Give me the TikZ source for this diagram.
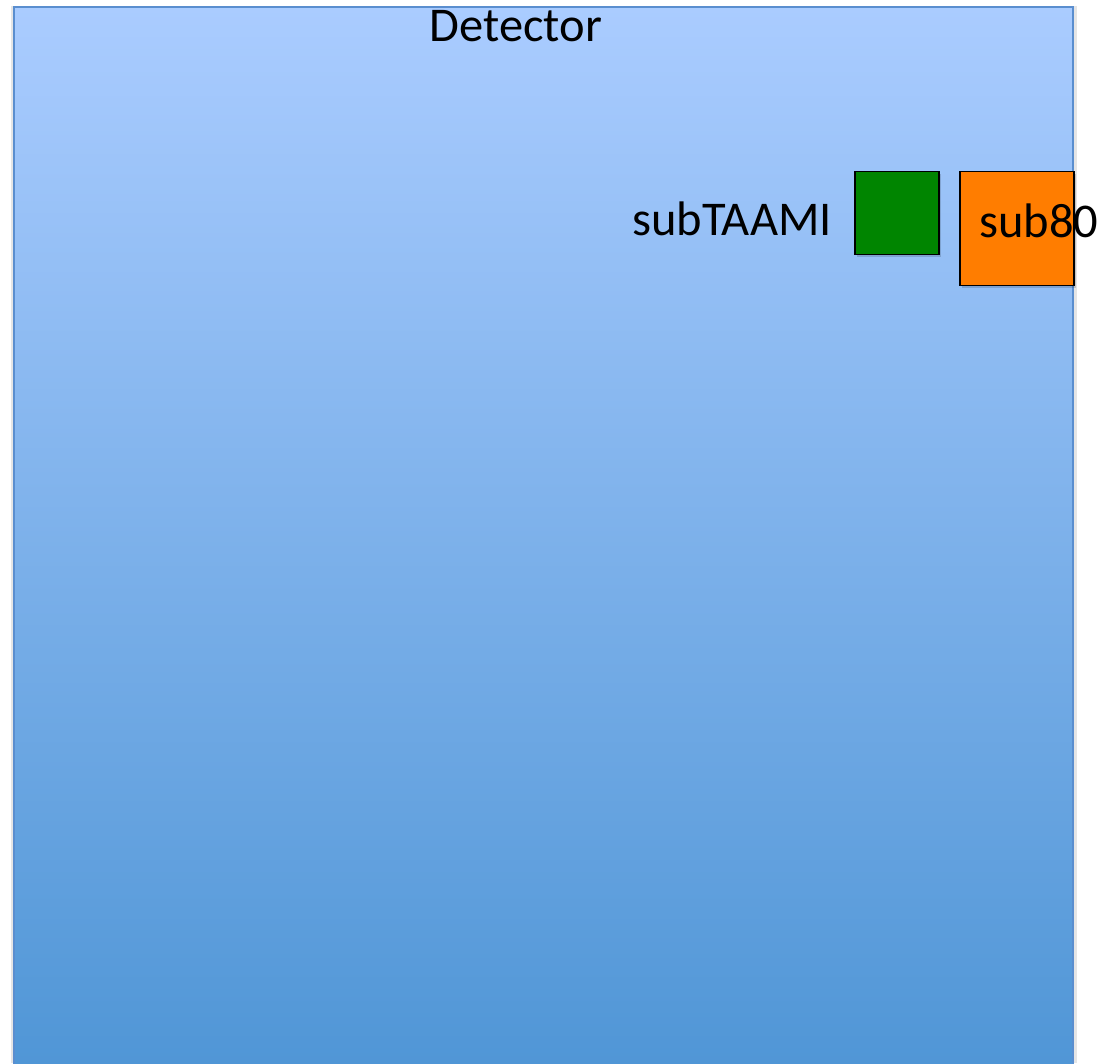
\documentclass[tikz,border=0pt]{standalone}
\usepackage{fontspec}
\setmainfont{Carlito}
\definecolor{detTop}{HTML}{AACCFF}
\definecolor{detBot}{HTML}{5096D6}
\definecolor{detEdge}{HTML}{5A8ECF}
\definecolor{boxGreen}{HTML}{008500}
\definecolor{boxOrange}{HTML}{FF7D00}
\tikzset{
  lbl/.style={font=\fontsize{48.5}{52}\selectfont, text=black, inner sep=0pt},
  sq/.style={draw=black, line width=1.5pt},
  shadowsq/.style={fill=black, opacity=0.15}
}
\begin{document}
\begin{tikzpicture}[x=1pt,y=1pt]
\useasboundingbox (0,0) rectangle (1108,1063);
% shadow of detector
\fill[black!10] (11,0) rectangle (1077,1057);
\shade[top color=detTop, bottom color=detBot, draw=detEdge, line width=1.5pt] (14,-2) rectangle (1073,1056);
\node (det) at (14,-2) {};
\node[lbl, anchor=base] (detlabel) at (516,1021) {Detector};
% shadows
\fill[shadowsq] (857,806) rectangle (941,889);
\fill[shadowsq] (962,775) rectangle (1076,889);
\node[sq, fill=boxGreen, minimum width=84pt, minimum height=83pt, inner sep=0pt, anchor=north west] (green) at (854,892) {};
\node[sq, fill=boxOrange, minimum width=114pt, minimum height=114pt, inner sep=0pt, anchor=north west] (orange) at (959,892) {};
\node[lbl, anchor=base west] (sub80) at (979,825) {sub80};
\node[lbl, anchor=base east] (subtaami) at (832,827) {subTAAMI};
\end{tikzpicture}
\end{document}
